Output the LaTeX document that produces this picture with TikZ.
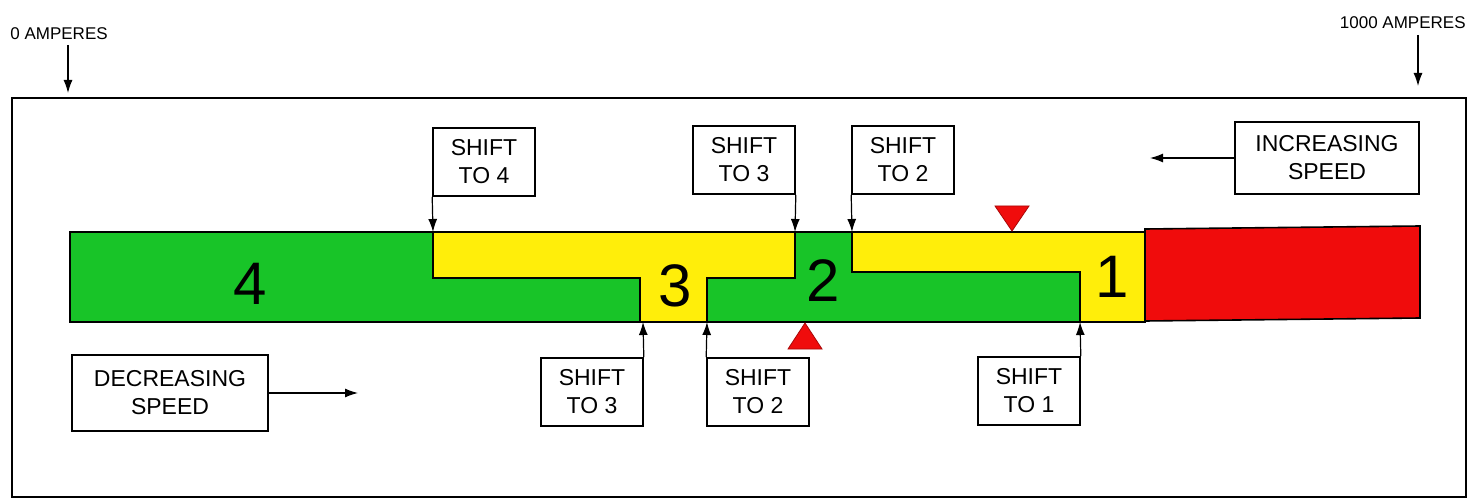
\documentclass[tikz,border=0pt]{standalone}
\usepackage{fontspec}
\setmainfont{Liberation Sans}
\usetikzlibrary{arrows.meta}
\definecolor{geargreen}{RGB}{24,196,40}
\definecolor{gearyellow}{RGB}{255,238,10}
\definecolor{gearred}{RGB}{240,12,12}
\tikzset{
  shiftbox/.style={draw, line width=0.8pt, fill=white, align=center, inner sep=0pt,
    font=\fontsize{11.5}{14}\selectfont, minimum width=51pt, minimum height=34pt},
  speedbox/.style={shiftbox, minimum width=92pt, minimum height=36pt},
  gearnum/.style={font=\fontsize{30}{30}\selectfont},
  ampnote/.style={font=\fontsize{8.5}{10}\selectfont, inner sep=0pt},
  arr/.style={-{Latex[length=6.5pt,width=4.5pt]}, line width=0.6pt},
}
\begin{document}
\begin{tikzpicture}[x=0.5pt,y=0.5pt,yscale=-1,xscale=1]
    \useasboundingbox (0,0) rectangle (1476,502);

    %Shape: outer frame
    \draw [line width=1pt] (12,98) rectangle (1466,497) ;

    %Shape: green bar
    \fill [geargreen] (70,232) rectangle (1145,322) ;
    %Shape: yellow zone 3
    \fill [gearyellow] (433,232) -- (795,232) -- (795,278) -- (707,278) -- (707,322) -- (640,322) -- (640,278) -- (433,278) -- cycle ;
    %Shape: yellow zone 1
    \fill [gearyellow] (852,232) -- (1145,232) -- (1145,322) -- (1080,322) -- (1080,272) -- (852,272) -- cycle ;
    %Straight Lines: zone borders
    \draw [line width=0.8pt] (433,232) -- (433,278) -- (640,278) -- (640,322) ;
    \draw [line width=0.8pt] (795,232) -- (795,278) -- (707,278) -- (707,322) ;
    \draw [line width=0.8pt] (852,232) -- (852,272) -- (1080,272) -- (1080,322) ;
    \draw [line width=0.8pt] (70,232) rectangle (1145,322) ;
    %Shape: red zone
    \draw [line width=0.8pt, fill=gearred] (1145,229) -- (1420,226) -- (1420,318) -- (1145,321) -- cycle ;

    %Shape: markers
    \fill [gearred, draw=gearred!70!black] (995,206) -- (1029,206) -- (1012,231) -- cycle ;
    \fill [gearred, draw=gearred!70!black] (788,349) -- (822,349) -- (805,323) -- cycle ;

    % Text Node: gear numbers
    \node [gearnum] (g4) at (250,284) {4};
    \node [gearnum] (g3) at (675,286) {3};
    \node [gearnum] (g2) at (823,281) {2};
    \node [gearnum] (g1) at (1112,277) {1};

    % Text Node: ampere notes
    \node [ampnote, anchor=west] (amp0) at (10,34) {0 AMPERES};
    \node [ampnote, anchor=east] (amp1) at (1466,23) {1000 AMPERES};
    \coordinate (a0) at (68,93);
    \coordinate (a1) at (1418,86);
    \draw [arr] (68,45) -- (a0) ;
    \draw [arr] (1418,35) -- (a1) ;

    % Text Node: shift boxes above
    \node [shiftbox] (up4) at (484,162) {SHIFT\\TO 4};
    \node [shiftbox] (up3) at (744,160) {SHIFT\\TO 3};
    \node [shiftbox] (up2) at (903,160) {SHIFT\\TO 2};
    \coordinate (u4) at (433,232);
    \coordinate (u3) at (795,232);
    \coordinate (u2) at (852,232);
    \draw [arr] (up4.south west) -- (u4) ;
    \draw [arr] (up3.south east) -- (u3) ;
    \draw [arr] (up2.south west) -- (u2) ;

    % Text Node: shift boxes below
    \node [shiftbox] (dn3) at (592,392) {SHIFT\\TO 3};
    \node [shiftbox] (dn2) at (758,392) {SHIFT\\TO 2};
    \node [shiftbox] (dn1) at (1029,391) {SHIFT\\TO 1};
    \coordinate (d3) at (643,322);
    \coordinate (d2) at (707,322);
    \coordinate (d1) at (1080,322);
    \draw [arr] (dn3.north east) -- (d3) ;
    \draw [arr] (dn2.north west) -- (d2) ;
    \draw [arr] (dn1.north east) -- (d1) ;

    % Text Node: speed boxes
    \node [speedbox] (inc) at (1327,158) {INCREASING\\SPEED};
    \node [speedbox, minimum width=98pt, minimum height=38pt] (dec) at (170,393) {DECREASING\\SPEED};
    \coordinate (incend) at (1150,158);
    \coordinate (decend) at (358,393);
    \draw [arr] (inc.west) -- (incend) ;
    \draw [arr] (dec.east) -- (decend) ;

\end{tikzpicture}
\end{document}
